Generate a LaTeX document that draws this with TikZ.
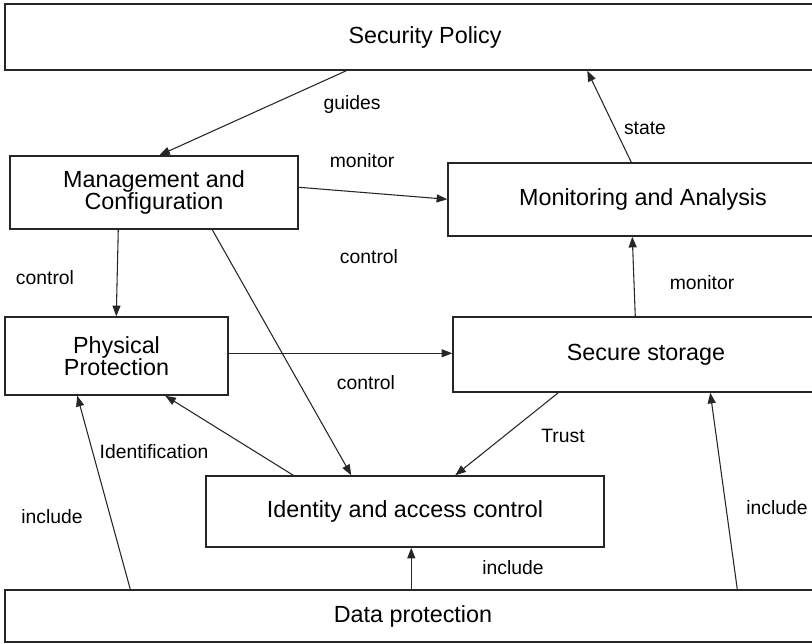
\documentclass[tikz,border=0pt]{standalone}
\usepackage{fontspec}
\setmainfont{Liberation Sans}
\usetikzlibrary{calc,arrows.meta}
\tikzset{
  box/.style={draw=black!85, line width=1.1pt, inner sep=0pt, font=\fontsize{17.5}{16.5}\selectfont, align=center},
  lbl/.style={font=\fontsize{14.5}{17}\selectfont, inner sep=0pt},
  conn/.style={draw=black!85, line width=0.8pt, -{Triangle[length=8pt,width=6pt]}},
}
\begin{document}
\begin{tikzpicture}[x=0.75pt,y=-0.75pt]
\useasboundingbox (0,0) rectangle (812,643);
\clip (0,0) rectangle (812,643);
% boxes
\node[box, minimum width=630pt, minimum height=49.5pt] (sp) at (425,37) {Security Policy};
\node[box, minimum width=216pt, minimum height=54.75pt] (mc) at (154,192.5) {Management and\\Configuration};
\node[box, minimum width=292.5pt, minimum height=54.75pt] (ma) at (643,199.5) {Monitoring and Analysis};
\node[box, minimum width=167.25pt, minimum height=58.5pt] (pp) at (116.5,356) {Physical\\Protection};
\node[box, minimum width=289.5pt, minimum height=56.25pt] (ss) at (646,354.5) {Secure storage};
\node[box, minimum width=298.5pt, minimum height=53.25pt] (ia) at (405,511.5) {Identity and access control};
\node[box, minimum width=612pt, minimum height=39pt] (dp) at (413,616) {Data protection};
% connectors
\draw[conn] ($(sp.south west)+(342,0)$) -- ($(mc.north west)+(150,0)$);
\draw[conn] ($(mc.north east)+(0,32)$) -- ($(ma.north west)+(0,37)$);
\draw[conn] ($(ma.north west)+(184,0)$) -- ($(sp.south west)+(583,0)$);
\draw[conn] ($(mc.south west)+(109,0)$) -- ($(pp.north west)+(112,0)$);
\draw[conn] ($(mc.south west)+(203,0)$) -- ($(ia.north west)+(146,0)$);
\draw[conn] ($(pp.north east)+(0,37)$) -- ($(ss.north west)+(0,37)$);
\draw[conn] ($(ss.north west)+(183,0)$) -- ($(ma.south west)+(185,0)$);
\draw[conn] ($(ss.south west)+(106,0)$) -- ($(ia.north west)+(250,0)$);
\draw[conn] ($(ia.north west)+(88,0)$) -- ($(pp.south west)+(161,0)$);
\draw[conn] ($(dp.north west)+(126,0)$) -- ($(pp.south west)+(73,0)$);
\draw[conn] ($(dp.north west)+(407,0)$) -- ($(ia.south west)+(206,0)$);
\draw[conn] ($(dp.north west)+(733,0)$) -- ($(ss.south west)+(258,0)$);
% labels
\node[lbl] (lguides) at (352,104) {guides};
\node[lbl] (lmon1) at (362,161) {monitor};
\node[lbl] (lstate) at (645,128) {state};
\node[lbl] (lctl1) at (45,278) {control};
\node[lbl] (lctl2) at (369,257) {control};
\node[lbl] (lctl3) at (366,383) {control};
\node[lbl] (lmon2) at (702,283) {monitor};
\node[lbl] (ltrust) at (563,436) {Trust};
\node[lbl] (lident) at (154,452) {Identification};
\node[lbl] (linc1) at (52,517) {include};
\node[lbl] (linc2) at (513,568) {include};
\node[lbl] (linc3) at (777,508) {include};
\end{tikzpicture}
\end{document}
